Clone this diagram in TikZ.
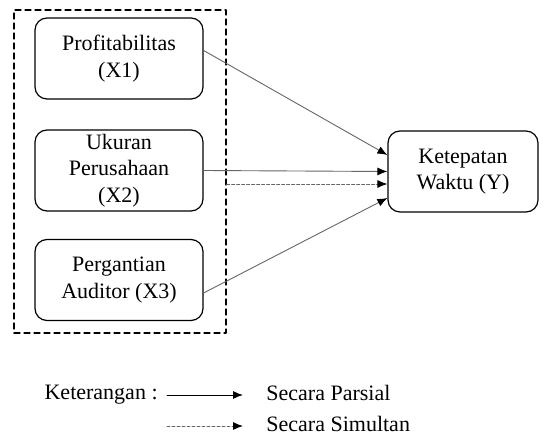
\documentclass[tikz,border=0pt]{standalone}
\usepackage{fontspec}
\setmainfont{Liberation Serif}
\usetikzlibrary{arrows.meta,positioning}

\begin{document}
\begin{tikzpicture}[x=0.5pt,y=-0.5pt,line cap=round,line join=round,
  varbox/.style={draw,line width=.6pt,rounded corners=6pt,align=center,
    minimum width=84pt,minimum height=40.5pt,inner sep=1pt,
    font=\fontsize{11}{13.3}\selectfont},
  grpbox/.style={draw,line width=.6pt,dash pattern=on 3pt off 2pt,
    minimum width=106pt,minimum height=161.5pt,inner sep=0pt},
  part/.style={draw=black!60,line width=.45pt,-{Latex[length=5pt,width=4pt,color=black]}},
  simul/.style={draw=black!60,line width=.45pt,dash pattern=on 1.5pt off 1pt,
    -{Latex[length=5pt,width=4pt,color=black]}},
  legtext/.style={font=\fontsize{11}{13.3}\selectfont,inner sep=0pt}]
\path[use as bounding box] (0,0) rectangle (544,437);
% independent variables
\node[grpbox] (grp) at (120,171.5) {};
\node[varbox] (x1) at (119,58.5) {Profitabilitas\\(X1)};
\node[varbox] (x2) at (119,170.5) {Ukuran\\Perusahaan\\(X2)};
\node[varbox] (x3) at (119,280) {Pergantian\\Auditor (X3)};
% dependent variable
\node[varbox,minimum width=75pt] (y) at (463,171.5) {Ketepatan\\Waktu (Y)};
% relations
\draw[part] ([yshift=4pt]x1.east) -- ([yshift=8.25pt]y.west);
\draw[part] (x2.east) -- (y.west);
\coordinate (simend) at ([yshift=-6.25pt]y.west);
\draw[simul] (grp.east |- simend) -- (simend);
\draw[part] ([yshift=-6.5pt]x3.east) -- ([yshift=-13.25pt]y.west);
% legend
\node[legtext,anchor=east] (ket) at (158,395) {Keterangan :};
\coordinate (pa) at (167,395);
\coordinate (pb) at (243,395);
\coordinate (sa) at (167,426);
\coordinate (sb) at (243,426);
\draw[part,draw=black] (pa) -- (pb);
\draw[simul] (sa) -- (sb);
\node[legtext,anchor=west] (parsial) at (266,393) {Secara Parsial};
\node[legtext,anchor=west] (simultan) at (266,424) {Secara Simultan};
\end{tikzpicture}
\end{document}
